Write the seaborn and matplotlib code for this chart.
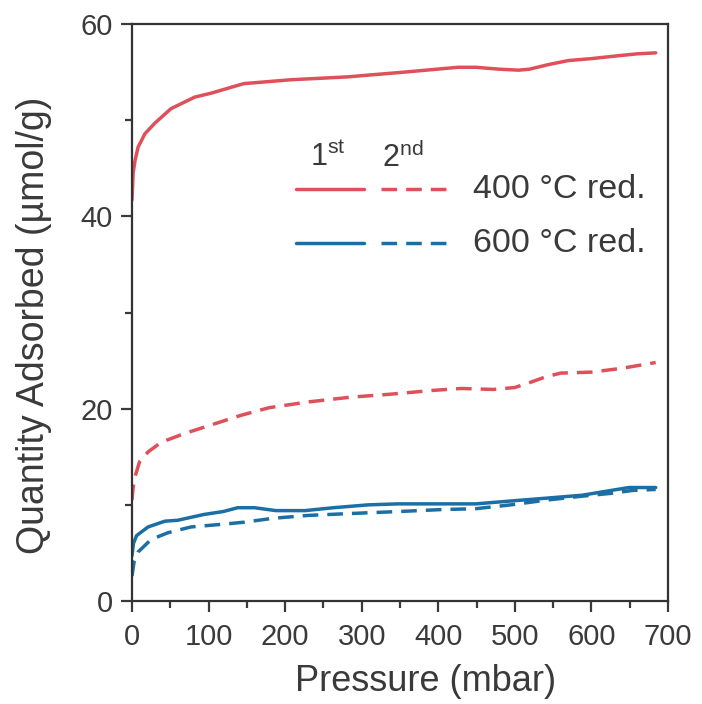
import numpy as np
import pandas as pd
import matplotlib
matplotlib.use("Agg")
import matplotlib.pyplot as plt
import seaborn as sns
from matplotlib.lines import Line2D

# ---- data ----
p_red1 = [0, 1.5, 4, 8, 17, 30, 51, 82, 103, 146, 207, 281, 356, 426, 449, 480, 505, 519, 545, 570, 600, 635, 660, 684]
q_red1 = [41.7, 44.5, 45.8, 47.2, 48.6, 49.7, 51.2, 52.4, 52.8, 53.8, 54.2, 54.5, 55.0, 55.5, 55.5, 55.3, 55.2, 55.3, 55.8, 56.2, 56.4, 56.7, 56.9, 57.0]

p_red2 = [0, 1.5, 3.5, 10, 21, 38, 68, 103, 142, 179, 230, 286, 337, 393, 430, 472, 500, 519, 540, 560, 600, 640, 684]
q_red2 = [10.5, 11.8, 12.8, 14.5, 15.5, 16.5, 17.4, 18.3, 19.3, 20.1, 20.7, 21.2, 21.5, 21.9, 22.1, 22.0, 22.2, 22.7, 23.3, 23.7, 23.8, 24.2, 24.8]

p_blue1 = [0, 2, 6, 21, 43, 60, 77, 94, 119, 138, 160, 188, 226, 263, 309, 347, 402, 449, 495, 542, 588, 626, 649, 684]
q_blue1 = [4.7, 6.0, 6.8, 7.7, 8.3, 8.4, 8.7, 9.0, 9.3, 9.7, 9.7, 9.4, 9.4, 9.7, 10.0, 10.1, 10.1, 10.1, 10.4, 10.7, 11.0, 11.5, 11.8, 11.8]

p_blue2 = [0, 3, 8, 25, 47, 77, 121, 147, 184, 230, 286, 347, 402, 449, 495, 542, 588, 626, 654, 684]
q_blue2 = [2.6, 4.2, 5.1, 6.4, 7.1, 7.7, 8.0, 8.2, 8.6, 8.9, 9.1, 9.3, 9.5, 9.6, 10.0, 10.5, 10.9, 11.2, 11.5, 11.6]

x_ticks = [0, 100, 200, 300, 400, 500, 600, 700]
y_ticks = [0, 20, 40, 60]
legend_labels = ["400 °C red.", "600 °C red."]
cycle_labels = ["1$^{\\mathregular{st}}$", "2$^{\\mathregular{nd}}$"]

RED = "#e0505a"
BLUE = "#1c6fa4"
TXT = "#3a3a3a"

sns.set_theme(style="ticks")
plt.rcParams["font.family"] = ["Liberation Sans", "DejaVu Sans"]
plt.rcParams["mathtext.fontset"] = "custom"
plt.rcParams["mathtext.rm"] = "Liberation Sans"

fig = plt.figure(figsize=(7.02, 7.04), dpi=100)
ax = fig.add_axes([0.188, 0.1463, 0.7635, 0.8196])

lw = 2.5
dash = (4.5, 2.6)
series = [
    (p_red1, q_red1, RED, False),
    (p_red2, q_red2, RED, True),
    (p_blue1, q_blue1, BLUE, False),
    (p_blue2, q_blue2, BLUE, True),
]
for p, q, c, dashed in series:
    df = pd.DataFrame({"p": p, "q": q})
    sns.lineplot(data=df, x="p", y="q", ax=ax, color=c, linewidth=lw, estimator=None, sort=False)
    if dashed:
        ax.lines[-1].set_dashes(dash)

ax.set_xlim(0, 700)
ax.set_ylim(0, 60)
ax.set_xticks(x_ticks)
ax.set_yticks(y_ticks)
ax.set_xticks(np.arange(50, 700, 100), minor=True)
ax.set_yticks([10, 30, 50], minor=True)
ax.tick_params(axis="x", which="major", pad=8)
ax.tick_params(axis="both", which="major", direction="out", length=8, width=1.6,
               labelsize=21, colors=TXT)
ax.tick_params(axis="y", which="major", pad=6)
ax.tick_params(axis="both", which="minor", direction="out", length=5, width=1.6, colors=TXT)
for s in ax.spines.values():
    s.set_linewidth(1.6)
    s.set_color("#333333")
ax.set_xlabel("Pressure (mbar)", fontsize=26, color=TXT)
ax.set_ylabel("Quantity Adsorbed (µmol/g)", fontsize=27, color=TXT)
ax.xaxis.set_label_coords(0.547, -0.11)
ax.yaxis.set_label_coords(-0.15, 0.478)

# custom legend
tr = ax.transAxes
ys = [0.714, 0.620]
for yy, c, lab in zip(ys, [RED, BLUE], legend_labels):
    ax.add_line(Line2D([0.306, 0.433], [yy, yy], transform=tr, color=c, linewidth=lw))
    l2 = Line2D([0.464, 0.600], [yy, yy], transform=tr, color=c, linewidth=lw)
    l2.set_dashes(dash)
    ax.add_line(l2)
    ax.text(0.636, yy, lab, transform=tr, fontsize=24.5, color=TXT, va="center", ha="left")
ax.text(0.365, 0.768, cycle_labels[0], transform=tr, fontsize=22, color=TXT, va="center", ha="center")
ax.text(0.505, 0.768, cycle_labels[1], transform=tr, fontsize=22, color=TXT, va="center", ha="center")

fig.savefig("out.png", dpi=100, facecolor="white")
